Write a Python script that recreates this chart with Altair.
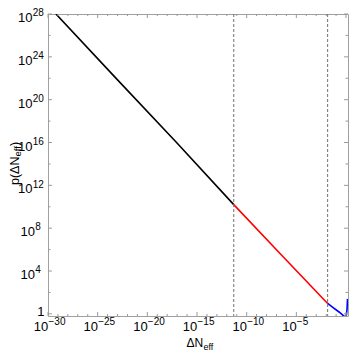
import altair as alt
import pandas as pd

# ---- values (log10 of ΔN_eff and of p) ----
black_logx = [-29.2, -23.0, -17.06, -11.3]
black_logy = [28.0, 21.85, 16.0, 10.2]
red_logx = [-11.3, -6.5, -1.85]
red_logy = [10.2, 5.5, 0.97]
blue_logx = [-1.85, -1.33, -0.67, -0.35, -0.18, 0.02, 0.1, 0.15]
blue_logy = [0.97, 0.6, 0.15, -0.1, -0.25, -0.2, 0.4, 1.4]
dashed_logx = [-11.3, -1.85]

x_major_pow = [-30, -25, -20, -15, -10, -5, 0]
x_minor_pow = [p for p in range(-30, 1) if p % 5 != 0]
x_label_pow = [-30, -25, -20, -15, -10, -5]
y_major_pow = [0, 4, 8, 12, 16, 20, 24, 28]
y_minor_pow = [2, 6, 10, 14, 18, 22, 26]
y_label_pow = [4, 8, 12, 16, 20, 24, 28]

W, H = 300, 302
FONT = "Liberation Sans"
xs = alt.Scale(type="log", domain=[1e-30, 10 ** 0.2], nice=False)
ys = alt.Scale(type="log", domain=[10 ** -0.2, 1e28], nice=False)


def sup(n):
    return str(n).replace("-", "\u2212")


def line_df(lx, ly):
    return pd.DataFrame({"x": [10.0 ** v for v in lx], "y": [10.0 ** v for v in ly]})


def curve(lx, ly, color):
    return alt.Chart(line_df(lx, ly)).mark_line(color=color, strokeWidth=1.6, clip=True).encode(
        x=alt.X("x:Q", scale=xs, axis=None), y=alt.Y("y:Q", scale=ys, axis=None))


layers = [
    curve(black_logx, black_logy, "#000000"),
    curve(red_logx, red_logy, "#ff0000"),
    curve(blue_logx, blue_logy, "#0000ff"),
]

dash_df = pd.DataFrame({"x": [10.0 ** v for v in dashed_logx]})
layers.append(alt.Chart(dash_df).mark_rule(color="#707070", strokeDash=[3, 2], strokeWidth=1).encode(
    x=alt.X("x:Q", scale=xs, axis=None)))

TICK = "#9a9a9a"


def xticks(pows, length):
    df = pd.DataFrame({"x": [10.0 ** p for p in pows]})
    out = []
    for y0, y1 in [(H, H - length), (0, length)]:
        out.append(alt.Chart(df).mark_rule(color=TICK, strokeWidth=1).encode(
            x=alt.X("x:Q", scale=xs, axis=None), y=alt.value(y0), y2=alt.value(y1)))
    return out


def yticks(pows, length):
    df = pd.DataFrame({"y": [10.0 ** p for p in pows]})
    out = []
    for x0, x1 in [(0, length), (W, W - length)]:
        out.append(alt.Chart(df).mark_rule(color=TICK, strokeWidth=1).encode(
            y=alt.Y("y:Q", scale=ys, axis=None), x=alt.value(x0), x2=alt.value(x1)))
    return out


layers += xticks(x_major_pow, 4) + xticks(x_minor_pow, 2)
layers += yticks(y_major_pow, 4) + yticks(y_minor_pow, 2.5)

# ---- x tick labels: "10" with a raised exponent ----
xl = pd.DataFrame({"x": [10.0 ** p for p in x_label_pow],
                   "base": ["10"] * len(x_label_pow),
                   "exp": [sup(p) for p in x_label_pow]})
layers.append(alt.Chart(xl).mark_text(font=FONT, fontSize=13, align="right", baseline="alphabetic",
                                      dx=0.3, color="#000").encode(
    x=alt.X("x:Q", scale=xs, axis=None), y=alt.value(H + 14.8), text="base:N"))
layers.append(alt.Chart(xl).mark_text(font=FONT, fontSize=10, align="left", baseline="alphabetic",
                                      dx=0.5, color="#000").encode(
    x=alt.X("x:Q", scale=xs, axis=None), y=alt.value(H + 8.7), text="exp:N"))

# ---- y tick labels ----
for group, xr in [([p for p in y_label_pow if len(str(p)) == 1], -13),
                  ([p for p in y_label_pow if len(str(p)) == 2], -15.5)]:
    df = pd.DataFrame({"y": [10.0 ** p for p in group], "base": ["10"] * len(group),
                       "exp": [sup(p) for p in group]})
    layers.append(alt.Chart(df).mark_text(font=FONT, fontSize=13, align="right", baseline="alphabetic",
                                          dy=8.0, color="#000").encode(
        y=alt.Y("y:Q", scale=ys, axis=None), x=alt.value(xr), text="base:N"))
    layers.append(alt.Chart(df).mark_text(font=FONT, fontSize=10, align="left", baseline="alphabetic",
                                          dy=2.2, color="#000").encode(
        y=alt.Y("y:Q", scale=ys, axis=None), x=alt.value(xr + 0.3), text="exp:N"))
one_df = pd.DataFrame({"y": [1.0], "t": ["1"]})
layers.append(alt.Chart(one_df).mark_text(font=FONT, fontSize=13, align="right", baseline="alphabetic",
                                          dy=2.3, color="#000").encode(
    y=alt.Y("y:Q", scale=ys, axis=None), x=alt.value(-3.5), text="t:N"))

# ---- axis titles with subscripts ----
title_df = pd.DataFrame({"a": [0]})


def txt(text, size, x, y, angle=0):
    kw = dict(font=FONT, fontSize=size, align="left", baseline="alphabetic", color="#000")
    if angle:
        kw["angle"] = angle
    return alt.Chart(title_df).mark_text(text=text, **kw).encode(x=alt.value(x), y=alt.value(y))


layers.append(txt("\u0394N", 12, 138.5, H + 31.3))
layers.append(txt("eff", 9, 155.5, H + 33.8))
ybase = 171
ysz = 12.5
layers.append(txt("p(\u0394N", ysz, -29.5, ybase, 270))
layers.append(txt("eff", 9.5, -27.2, ybase - ysz * 2.279, 270))
layers.append(txt(")", ysz, -29.5, ybase - ysz * 2.279 - 10.6, 270))

chart = alt.layer(*layers).properties(
    width=W, height=H,
    autosize=alt.AutoSizeParams(type="none"),
    padding={"left": 40, "top": 6, "right": 1, "bottom": 36},
    background="white",
).configure_view(stroke="#a0a0a0", strokeWidth=1)

chart.save("out.html", embed_options={"renderer": "svg", "actions": False})
